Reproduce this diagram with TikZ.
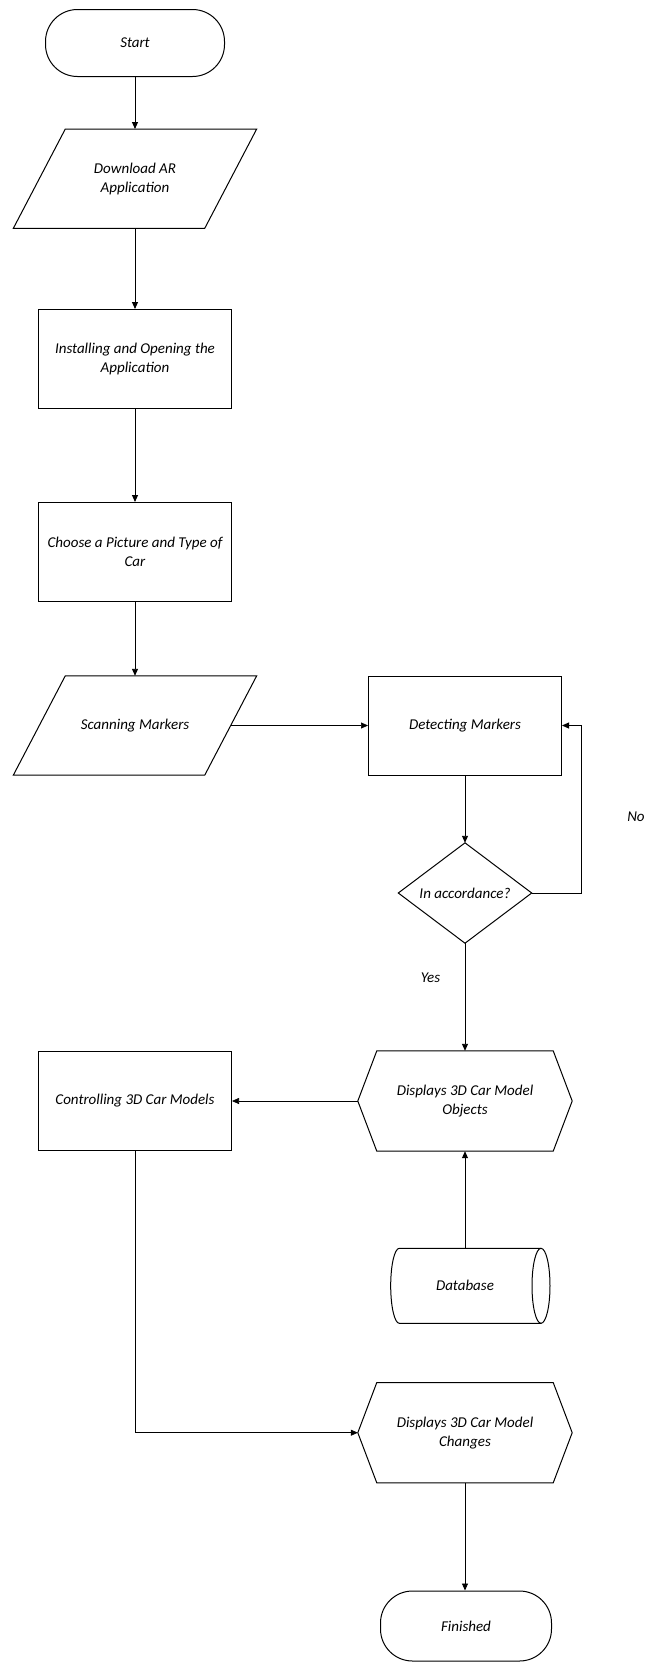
\documentclass[tikz,border=0pt]{standalone}
\usepackage{fontspec}
\setmainfont{Carlito}
\usetikzlibrary{arrows.meta,calc}
\begin{document}
\begin{tikzpicture}[x=1pt,y=-1pt,
  every node/.style={font=\itshape\fontsize{15}{19}\selectfont, align=center, inner sep=0pt},
  box/.style={draw, line width=1pt, minimum width=193pt, minimum height=99pt},
  term/.style={draw, line width=1pt, rounded corners=32pt, minimum width=179pt, minimum height=67pt},
  ghostpara/.style={minimum width=191pt, minimum height=99pt},
  ghosthex/.style={minimum width=214pt, minimum height=100pt},
  arr/.style={line width=0.9pt, -{Triangle[length=7pt,width=6pt]}},
  outline/.style={line width=1pt, line join=miter}
]
\useasboundingbox (0,0) rectangle (648,1663);

% nodes
\node[term] (start) at (135,43) {Start};

\node[ghostpara] (dl) at (135,178.7) {Download AR\\Application};
\draw[outline] ($(dl.south west)+(-26,0)$) -- ($(dl.south east)+(-26,0)$) -- ($(dl.north east)+(26,0)$) -- ($(dl.north west)+(26,0)$) -- cycle;

\node[box] (inst) at (135,359) {Installing and Opening the\\Application};
\node[box] (choose) at (135,552) {Choose a Picture and Type of\\Car};

\node[ghostpara] (scan) at (135,725.5) {Scanning Markers};
\draw[outline] ($(scan.south west)+(-26,0)$) -- ($(scan.south east)+(-26,0)$) -- ($(scan.north east)+(26,0)$) -- ($(scan.north west)+(26,0)$) -- cycle;

\node[box] (detect) at (465,725.5) {Detecting Markers};

\node[minimum width=133pt, minimum height=100pt] (dec) at (465,893) {In accordance?};
\draw[outline] (dec.north) -- (dec.east) -- (dec.south) -- (dec.west) -- cycle;

\node (no) at (636,817) {No};
\node (yes) at (430.6,978) {Yes};

\node[ghosthex] (obj) at (465,1101) {Displays 3D Car Model\\Objects};
\draw[outline] (obj.west) -- ([xshift=19pt]obj.north west) -- ([xshift=-19pt]obj.north east) -- (obj.east) -- ([xshift=-19pt]obj.south east) -- ([xshift=19pt]obj.south west) -- cycle;

\node[box] (ctrl) at (135,1101) {Controlling 3D Car Models};

\node[minimum width=150pt, minimum height=75pt] (db) at (465,1285.8) {Database};
\draw[outline] ($(db)+(76,37.5)$) -- ($(db)+(-65.7,37.5)$) arc[start angle=90, end angle=270, x radius=8.6, y radius=37.5] -- ($(db)+(76,-37.5)$);
\draw[outline] ($(db)+(76,0)$) ellipse [x radius=9, y radius=37.5];

\node[ghosthex] (chg) at (465,1432.7) {Displays 3D Car Model\\Changes};
\draw[outline] (chg.west) -- ([xshift=19pt]chg.north west) -- ([xshift=-19pt]chg.north east) -- (chg.east) -- ([xshift=-19pt]chg.south east) -- ([xshift=19pt]chg.south west) -- cycle;

\node[term, minimum width=171pt, minimum height=70pt] (fin) at (466,1626) {Finished};

% connectors
\draw[arr] (start) -- (dl);
\draw[arr] (dl) -- (inst);
\draw[arr] (inst) -- (choose);
\draw[arr] (choose) -- (scan);
\draw[arr, line width=0.7pt] (scan.east) -- (detect.west);
\draw[arr] (detect) -- (dec);
\draw[arr] (dec.east) -- ++(49.5,0) |- (detect.east);
\draw[arr] (dec) -- (obj);
\draw[arr, line width=0.7pt] (obj.west) -- (ctrl.east);
\draw[arr] (db) -- (obj);
\draw[arr, line width=0.7pt] (ctrl.south) |- (chg.west);
\draw[arr] (chg.south) -- (chg.south |- fin.north);
\end{tikzpicture}
\end{document}
